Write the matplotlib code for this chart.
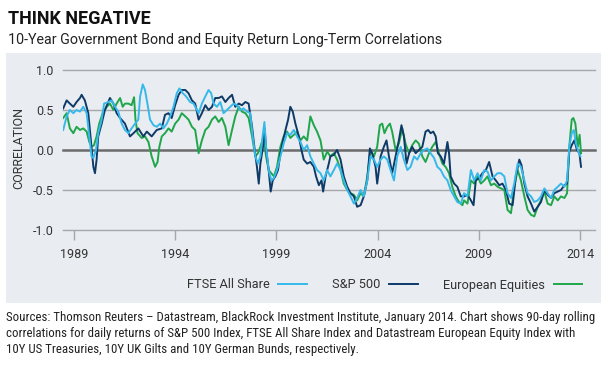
import matplotlib
matplotlib.use("Agg")
import matplotlib.pyplot as plt
from matplotlib.patches import Rectangle

plt.rcParams['font.family'] = ['Roboto', 'DejaVu Sans']

# S&P 500 vs 10Y US Treasuries
sp_years = [1988.47, 1988.64, 1988.80, 1988.97, 1989.13, 1989.30, 1989.38, 1989.54, 1989.71, 1989.87,
            1989.96, 1990.04, 1990.12, 1990.20, 1990.37, 1990.53, 1990.78, 1990.95, 1991.11, 1991.28,
            1991.52, 1991.77, 1991.94, 1992.18, 1992.43, 1992.60, 1992.84, 1993.09, 1993.34, 1993.50,
            1993.67, 1993.83, 1994.00, 1994.17, 1994.33, 1994.50, 1994.66, 1994.83, 1994.99,
            1995.16, 1995.32, 1995.49, 1995.65, 1995.82, 1995.98, 1996.15, 1996.31, 1996.48, 1996.64,
            1996.81, 1996.97, 1997.14, 1997.30, 1997.47, 1997.63, 1997.71, 1997.80, 1997.93, 1998.04,
            1998.13, 1998.21, 1998.34, 1998.42, 1998.50, 1998.62, 1998.72, 1998.82, 1998.95, 1999.08,
            1999.20, 1999.31, 1999.45, 1999.58, 1999.69, 1999.81, 1999.94, 2000.11, 2000.24, 2000.35,
            2000.52, 2000.68, 2000.85, 2000.96, 2001.10, 2001.23, 2001.31, 2001.43, 2001.59,
            2001.67, 2001.84, 2002.00, 2002.17, 2002.33, 2002.50, 2002.66, 2002.83, 2002.99, 2003.16,
            2003.32, 2003.49, 2003.62, 2003.73, 2003.90, 2003.98, 2004.15, 2004.31, 2004.44, 2004.56,
            2004.72, 2004.89, 2005.05, 2005.18, 2005.30, 2005.43, 2005.56, 2005.71, 2005.88, 2006.04,
            2006.21, 2006.37, 2006.50, 2006.62, 2006.75, 2006.87, 2006.98, 2007.12, 2007.28, 2007.45,
            2007.53, 2007.61, 2007.78, 2007.94, 2008.11,
            2008.27, 2008.44, 2008.61, 2008.74, 2008.85, 2009.02, 2009.18, 2009.35, 2009.51, 2009.68,
            2009.84, 2010.01, 2010.17, 2010.34, 2010.50, 2010.67, 2010.83, 2011.00, 2011.11, 2011.25,
            2011.41, 2011.58, 2011.74, 2011.91, 2012.07, 2012.24, 2012.40, 2012.57, 2012.73, 2012.90,
            2013.06, 2013.23, 2013.36, 2013.47, 2013.59, 2013.72, 2013.85, 2013.97, 2014.05]
sp_corr = [0.52, 0.62, 0.58, 0.54, 0.60, 0.65, 0.69, 0.62, 0.46, 0.04,
           -0.21, -0.29, -0.12, 0.17, 0.33, 0.50, 0.65, 0.58, 0.46, 0.40,
           0.33, 0.17, 0.21, 0.27, 0.17, 0.23, 0.17, 0.25, 0.27, 0.44,
           0.46, 0.40, 0.56, 0.69, 0.75, 0.75, 0.71, 0.62, 0.58,
           0.38, 0.46, 0.56, 0.50, 0.54, 0.65, 0.65, 0.67, 0.60, 0.65,
           0.69, 0.54, 0.58, 0.56, 0.60, 0.58, 0.44, 0.29, 0.00, -0.21,
           -0.42, -0.17, 0.04, 0.27, 0.00, -0.25, -0.52, -0.38, -0.33, -0.25,
           -0.04, 0.10, 0.25, 0.38, 0.54, 0.48, 0.33, 0.17, 0.00, -0.12,
           -0.17, -0.15, -0.21, -0.33, -0.44, -0.38, -0.52, -0.33, -0.17,
           -0.08, -0.06, 0.00, -0.12, -0.33, -0.46, -0.54, -0.58, -0.71, -0.69,
           -0.58, -0.38, 0.02, -0.04, -0.21, -0.42, -0.08, 0.04, 0.12, -0.08,
           -0.29, -0.08, 0.12, 0.31, 0.17, -0.17, -0.04, 0.04, -0.04, 0.00,
           0.04, 0.23, 0.25, 0.21, 0.23, 0.17, -0.04, -0.08, -0.17, 0.10,
           -0.04, -0.33, -0.42, -0.46, -0.58,
           -0.58, -0.56, -0.63, -0.69, -0.38, -0.35, -0.29, -0.25, -0.15, -0.33,
           -0.38, -0.44, -0.42, -0.50, -0.67, -0.69, -0.33, -0.12, -0.19, -0.42,
           -0.58, -0.67, -0.77, -0.71, -0.65, -0.50, -0.56, -0.60, -0.54, -0.52,
           -0.50, -0.44, -0.42, -0.02, 0.06, 0.12, 0.00, -0.04, -0.21]

# FTSE All Share vs 10Y UK Gilts
ftse_years = [1988.47, 1988.64, 1988.80, 1988.97, 1989.13, 1989.30, 1989.46, 1989.63, 1989.76, 1989.87,
              1989.96, 1990.09, 1990.20, 1990.37, 1990.49, 1990.70, 1990.86, 1991.03, 1991.19, 1991.36,
              1991.52, 1991.69, 1991.85, 1992.02, 1992.18, 1992.27, 1992.40, 1992.51, 1992.63, 1992.76,
              1992.93, 1993.09, 1993.26, 1993.42, 1993.59, 1993.75, 1993.92, 1994.08, 1994.21, 1994.38,
              1994.54, 1994.74, 1994.91,
              1995.16, 1995.32, 1995.49, 1995.65, 1995.78, 1995.90, 1996.06, 1996.23, 1996.39, 1996.56,
              1996.72, 1996.89, 1997.05, 1997.22, 1997.38, 1997.55, 1997.71, 1997.83, 1997.96, 1998.09,
              1998.21, 1998.32, 1998.41, 1998.49, 1998.62, 1998.75, 1998.88, 1999.03, 1999.20, 1999.36,
              1999.53, 1999.69, 1999.86, 2000.02, 2000.19, 2000.35, 2000.52, 2000.68, 2000.85, 2001.01,
              2001.18, 2001.34, 2001.51, 2001.67,
              2001.84, 2002.00, 2002.17, 2002.33, 2002.50, 2002.66, 2002.83, 2002.99, 2003.16, 2003.32,
              2003.49, 2003.65, 2003.82, 2003.98, 2004.15, 2004.31, 2004.48, 2004.64, 2004.81, 2004.97,
              2005.14, 2005.30, 2005.47, 2005.63, 2005.80, 2005.96, 2006.13, 2006.29, 2006.46, 2006.62,
              2006.79, 2006.95, 2007.12, 2007.28, 2007.45, 2007.61, 2007.78, 2007.94, 2008.11,
              2008.27, 2008.44, 2008.61, 2008.77, 2008.94, 2009.10, 2009.27, 2009.43, 2009.60, 2009.76,
              2009.93, 2010.09, 2010.26, 2010.42, 2010.59, 2010.75, 2010.92, 2011.08, 2011.25, 2011.41,
              2011.58, 2011.74, 2011.91, 2012.07, 2012.24, 2012.40, 2012.57, 2012.73, 2012.90, 2013.06,
              2013.23, 2013.36, 2013.47, 2013.59, 2013.69, 2013.80, 2013.92, 2014.02]
ftse_corr = [0.25, 0.42, 0.50, 0.46, 0.50, 0.48, 0.54, 0.46, 0.17, -0.08,
             -0.10, 0.00, 0.21, 0.38, 0.58, 0.60, 0.62, 0.54, 0.48, 0.33,
             0.25, 0.21, 0.27, 0.33, 0.38, 0.67, 0.82, 0.75, 0.58, 0.38,
             0.31, 0.29, 0.33, 0.27, 0.33, 0.42, 0.54, 0.71, 0.77, 0.71,
             0.67, 0.60, 0.58,
             0.46, 0.58, 0.67, 0.75, 0.71, 0.58, 0.54, 0.60, 0.46, 0.50,
             0.54, 0.58, 0.56, 0.50, 0.52, 0.48, 0.46, 0.17, -0.08, -0.17,
             -0.08, 0.17, 0.35, 0.04, -0.25, -0.38, -0.35, -0.25, -0.08, 0.08,
             0.21, 0.19, 0.25, 0.17, 0.10, 0.00, 0.06, -0.08, -0.17, -0.25,
             -0.29, -0.38, -0.25, -0.33,
             -0.25, -0.17, -0.25, -0.38, -0.50, -0.58, -0.67, -0.60, -0.50, -0.58,
             -0.38, -0.08, -0.12, -0.21, -0.12, -0.08, -0.12, -0.25, -0.38, -0.08,
             0.04, -0.12, -0.25, -0.21, -0.08, -0.12, -0.04, 0.00, 0.02, -0.04,
             -0.10, -0.21, -0.25, -0.33, -0.38, -0.50, -0.58, -0.65, -0.67,
             -0.54, -0.58, -0.25, -0.38, -0.29, -0.38, -0.25, -0.27, -0.38, -0.33,
             -0.29, -0.29, -0.33, -0.54, -0.60, -0.42, -0.17, -0.21, -0.38, -0.54,
             -0.58, -0.65, -0.63, -0.58, -0.48, -0.54, -0.60, -0.50, -0.46, -0.42,
             -0.46, -0.38, 0.04, 0.21, 0.25, 0.08, -0.02, -0.08]

# Datastream European Equity vs 10Y German Bunds
eu_years = [1988.47, 1988.64, 1988.80, 1988.97, 1989.13, 1989.30, 1989.46, 1989.63, 1989.76, 1989.87,
            1989.99, 1990.12, 1990.25, 1990.42, 1990.62, 1990.78, 1990.95, 1991.11, 1991.28, 1991.41,
            1991.52, 1991.69, 1991.85, 1991.97, 1992.04, 1992.14, 1992.35, 1992.51, 1992.68, 1992.84,
            1993.01, 1993.13, 1993.22, 1993.34, 1993.50, 1993.67, 1993.83, 1994.00, 1994.17, 1994.33,
            1994.50, 1994.66, 1994.83, 1994.99,
            1995.16, 1995.32, 1995.49, 1995.65, 1995.82, 1995.98, 1996.15, 1996.31, 1996.48, 1996.64,
            1996.81, 1996.97, 1997.14, 1997.30, 1997.47, 1997.63, 1997.80, 1997.96, 1998.09, 1998.21,
            1998.37, 1998.49, 1998.62, 1998.75, 1998.88, 1999.03, 1999.20, 1999.36, 1999.53, 1999.69,
            1999.86, 2000.02, 2000.19, 2000.35, 2000.52, 2000.68, 2000.85, 2001.01, 2001.18, 2001.34,
            2001.51, 2001.67,
            2001.84, 2002.00, 2002.17, 2002.33, 2002.50, 2002.66, 2002.83, 2002.99, 2003.16, 2003.32,
            2003.49, 2003.65, 2003.82, 2003.98, 2004.11, 2004.23, 2004.34, 2004.48, 2004.61, 2004.72,
            2004.89, 2005.05, 2005.22, 2005.38, 2005.55, 2005.71, 2005.88, 2006.04, 2006.21, 2006.37,
            2006.54, 2006.70, 2006.87, 2007.03, 2007.20, 2007.36, 2007.53, 2007.69, 2007.86, 2008.02,
            2008.19,
            2008.27, 2008.44, 2008.61, 2008.77, 2008.94, 2009.10, 2009.27, 2009.43, 2009.60, 2009.76,
            2009.93, 2010.09, 2010.26, 2010.42, 2010.59, 2010.75, 2010.92, 2011.08, 2011.25, 2011.41,
            2011.58, 2011.74, 2011.91, 2012.07, 2012.24, 2012.40, 2012.57, 2012.73, 2012.90, 2013.06,
            2013.23, 2013.36, 2013.47, 2013.59, 2013.67, 2013.77, 2013.89, 2013.98, 2014.05]
eu_corr = [0.40, 0.46, 0.27, 0.21, 0.29, 0.25, 0.27, 0.23, 0.10, 0.04,
           0.06, 0.17, 0.33, 0.46, 0.54, 0.58, 0.50, 0.58, 0.65, 0.54,
           0.58, 0.58, 0.56, 0.66, 0.38, 0.21, 0.15, 0.17, 0.10, -0.08,
           -0.21, -0.15, 0.04, 0.17, 0.21, 0.27, 0.23, 0.33, 0.38, 0.46,
           0.42, 0.38, 0.29, 0.25,
           -0.04, 0.12, 0.25, 0.29, 0.38, 0.42, 0.35, 0.40, 0.29, 0.06,
           0.25, 0.42, 0.54, 0.48, 0.46, 0.40, 0.17, -0.08, -0.04, 0.04,
           0.17, -0.08, -0.25, -0.29, -0.33, -0.21, 0.04, 0.17, 0.23, 0.15,
           0.19, 0.23, 0.12, 0.17, 0.12, 0.42, 0.31, 0.23, 0.12, -0.12,
           -0.02, -0.08,
           -0.04, -0.12, -0.25, -0.42, -0.50, -0.54, -0.56, -0.63, -0.54, -0.58,
           -0.33, 0.00, -0.08, 0.04, 0.31, 0.33, 0.21, 0.29, 0.33, 0.23,
           0.00, 0.08, 0.27, 0.08, -0.04, 0.06, 0.12, 0.08, -0.08, -0.15,
           -0.04, 0.04, 0.10, -0.04, -0.17, -0.21, -0.29, -0.46, -0.58, -0.65,
           -0.69,
           -0.63, -0.67, -0.38, -0.42, -0.33, -0.42, -0.38, -0.33, -0.44, -0.42,
           -0.46, -0.48, -0.50, -0.75, -0.79, -0.46, -0.25, -0.38, -0.58, -0.75,
           -0.81, -0.83, -0.71, -0.63, -0.52, -0.67, -0.69, -0.58, -0.63, -0.58,
           -0.60, -0.54, 0.04, 0.38, 0.40, 0.33, 0.04, 0.19, -0.04]

year_ticks = [1989, 1994, 1999, 2004, 2009, 2014]
corr_ticks = [-1.0, -0.5, 0.0, 0.5, 1.0]

W, H = 605, 370
fig = plt.figure(figsize=(W / 100, H / 100), dpi=100)

# grey panel behind the chart
fig.patches.append(Rectangle((6 / W, 1 - 303 / H), 595 / W, 250 / H,
                             transform=fig.transFigure, facecolor="#e9ecf0",
                             edgecolor="none", zorder=-10))

ax = fig.add_axes([63 / W, 1 - 230 / H, 532 / W, 164 / H])
ax.set_facecolor("none")
ax.set_zorder(5)
ax.set_xlim(1988.46, 2014.74)
ax.set_ylim(-1.0, 1.05)

for y in corr_ticks:
    if y == 0:
        ax.axhline(y, color="#6b6b6b", lw=1.8, zorder=1, clip_on=False)
    else:
        ax.axhline(y, color="#a5a7a9", lw=1.0, zorder=1, clip_on=False)

ax.plot(eu_years, eu_corr, color="#1fa64a", lw=1.4, zorder=2, label="European Equities")
ax.plot(sp_years, sp_corr, color="#0e3a68", lw=1.4, zorder=3, label="S&P 500")
ax.plot(ftse_years, ftse_corr, color="#36b9ea", lw=1.4, zorder=4, label="FTSE All Share")

for s in ax.spines.values():
    s.set_visible(False)
ax.set_yticks(corr_ticks)
ax.set_yticklabels([f"{v:.1f}" for v in corr_ticks])
ax.set_xticks(year_ticks)
ax.set_xticklabels([str(v) for v in year_ticks])
ax.tick_params(axis="y", length=0, pad=7, labelsize=9, labelcolor="#333333")
ax.tick_params(axis="x", length=7, width=1, color="#a5a7a9", pad=6,
               labelsize=9, labelcolor="#333333")

fig.text(19 / W, 1 - 148 / H, "CORRELATION", rotation=90, ha="center", va="center",
         fontsize=9, color="#333333")

# legend: label first, then line sample
handles, labels = ax.get_legend_handles_labels()
order = [2, 1, 0]
fig.legend([handles[i] for i in order], [labels[i] for i in order],
           loc="center right", bbox_to_anchor=(582 / W, 1 - 285 / H),
           ncol=3, frameon=False, markerfirst=False, fontsize=9.2,
           handlelength=2.2, handletextpad=0.7, columnspacing=2.0,
           borderpad=0, borderaxespad=0, labelcolor="#333333")

fig.text(8 / W, 1 - 19 / H, "THINK NEGATIVE", fontsize=13, fontweight="bold",
         ha="left", va="center", color="#111111")
fig.text(8 / W, 1 - 40 / H, "10-Year Government Bond and Equity Return Long-Term Correlations",
         fontsize=10.3, ha="left", va="center", color="#222222")

source = ("Sources: Thomson Reuters \u2013 Datastream, BlackRock Investment Institute, January 2014. "
          "Chart shows 90-day rolling\ncorrelations for daily returns of S&P 500 Index, FTSE All Share "
          "Index and Datastream European Equity Index with\n10Y US Treasuries, 10Y UK Gilts and 10Y "
          "German Bunds, respectively.")
fig.text(6 / W, 1 - 311 / H, source, fontsize=9.3, ha="left", va="top",
         color="#222222", linespacing=1.3,
         family=["Liberation Sans Narrow", "Roboto Condensed", "Liberation Sans", "DejaVu Sans"])

fig.savefig("out.png", dpi=100)
